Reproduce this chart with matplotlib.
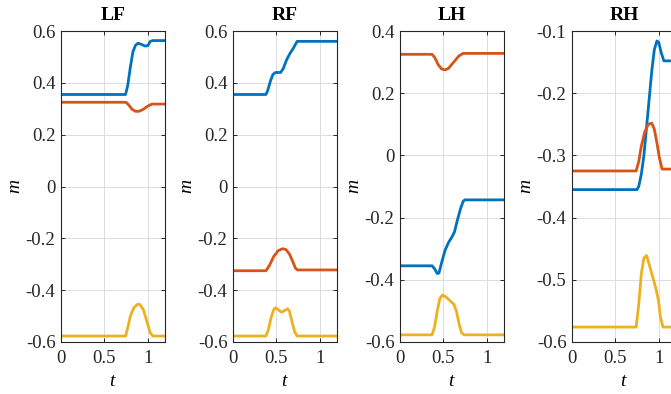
import numpy as np
import matplotlib
matplotlib.use('Agg')
import matplotlib.pyplot as plt

plt.rcParams['font.family'] = ['Liberation Serif', 'DejaVu Serif']
plt.rcParams['axes.unicode_minus'] = False
plt.rcParams['mathtext.fontset'] = 'custom'
plt.rcParams['mathtext.it'] = 'Liberation Serif:italic'

# legs
titles = ['LF', 'RF', 'LH', 'RH']
ylims = [(-0.6, 0.6), (-0.6, 0.6), (-0.6, 0.4), (-0.6, -0.1)]
yticks = [[-0.6, -0.4, -0.2, 0, 0.2, 0.4, 0.6],
          [-0.6, -0.4, -0.2, 0, 0.2, 0.4, 0.6],
          [-0.6, -0.4, -0.2, 0, 0.2, 0.4],
          [-0.6, -0.5, -0.4, -0.3, -0.2, -0.1]]

# LF
lf_x_t = [0, 0.745, 0.77, 0.80, 0.83, 0.86, 0.89, 0.93, 0.97, 1.0, 1.03, 1.06, 1.2]
lf_x_v = [0.355, 0.355, 0.39, 0.46, 0.52, 0.545, 0.553, 0.548, 0.542, 0.543, 0.56, 0.563, 0.563]
lf_y_t = [0, 0.75, 0.78, 0.82, 0.86, 0.90, 0.95, 1.0, 1.05, 1.2]
lf_y_v = [0.325, 0.325, 0.315, 0.298, 0.29, 0.29, 0.298, 0.31, 0.318, 0.318]
lf_z_t = [0, 0.745, 0.77, 0.80, 0.84, 0.88, 0.91, 0.95, 0.99, 1.03, 1.06, 1.2]
lf_z_v = [-0.577, -0.577, -0.545, -0.50, -0.468, -0.455, -0.455, -0.475, -0.52, -0.565, -0.577, -0.577]

# RF
rf_x_t = [0, 0.38, 0.40, 0.43, 0.46, 0.49, 0.55, 0.58, 0.62, 0.66, 0.69, 0.72, 0.74, 1.2]
rf_x_v = [0.355, 0.355, 0.37, 0.405, 0.432, 0.44, 0.44, 0.455, 0.49, 0.515, 0.53, 0.548, 0.56, 0.56]
rf_y_t = [0, 0.38, 0.42, 0.47, 0.52, 0.57, 0.61, 0.65, 0.69, 0.72, 0.745, 1.2]
rf_y_v = [-0.325, -0.325, -0.305, -0.27, -0.248, -0.24, -0.243, -0.26, -0.29, -0.315, -0.322, -0.322]
rf_z_t = [0, 0.38, 0.41, 0.44, 0.47, 0.49, 0.52, 0.56, 0.60, 0.63, 0.65, 0.68, 0.71, 0.74, 1.2]
rf_z_v = [-0.577, -0.577, -0.55, -0.505, -0.475, -0.468, -0.475, -0.485, -0.478, -0.472, -0.48, -0.52, -0.56, -0.577, -0.577]

# LH
lh_x_t = [0, 0.37, 0.40, 0.43, 0.45, 0.48, 0.52, 0.56, 0.60, 0.63, 0.66, 0.70, 0.73, 0.75, 1.2]
lh_x_v = [-0.355, -0.355, -0.365, -0.38, -0.378, -0.345, -0.305, -0.28, -0.262, -0.245, -0.21, -0.17, -0.147, -0.143, -0.143]
lh_y_t = [0, 0.37, 0.40, 0.44, 0.48, 0.52, 0.56, 0.62, 0.68, 0.73, 1.2]
lh_y_v = [0.325, 0.325, 0.315, 0.292, 0.278, 0.275, 0.28, 0.30, 0.32, 0.328, 0.328]
lh_z_t = [0, 0.37, 0.40, 0.43, 0.46, 0.49, 0.53, 0.58, 0.62, 0.65, 0.68, 0.71, 0.74, 1.2]
lh_z_v = [-0.577, -0.577, -0.55, -0.50, -0.46, -0.449, -0.455, -0.468, -0.478, -0.50, -0.54, -0.57, -0.577, -0.577]

# RH
rh_x_t = [0, 0.75, 0.77, 0.80, 0.83, 0.86, 0.89, 0.92, 0.95, 0.98, 1.0, 1.03, 1.06, 1.2]
rh_x_v = [-0.355, -0.355, -0.35, -0.33, -0.30, -0.255, -0.21, -0.165, -0.13, -0.116, -0.118, -0.135, -0.148, -0.148]
rh_y_t = [0, 0.74, 0.77, 0.80, 0.84, 0.88, 0.92, 0.95, 0.98, 1.01, 1.04, 1.2]
rh_y_v = [-0.325, -0.325, -0.31, -0.285, -0.262, -0.25, -0.248, -0.258, -0.28, -0.305, -0.322, -0.322]
rh_z_t = [0, 0.74, 0.77, 0.80, 0.83, 0.86, 0.89, 0.93, 0.97, 1.0, 1.02, 1.05, 1.2]
rh_z_v = [-0.576, -0.576, -0.54, -0.49, -0.465, -0.461, -0.475, -0.495, -0.515, -0.535, -0.56, -0.576, -0.576]

series = [
    [(lf_x_t, lf_x_v), (lf_y_t, lf_y_v), (lf_z_t, lf_z_v)],
    [(rf_x_t, rf_x_v), (rf_y_t, rf_y_v), (rf_z_t, rf_z_v)],
    [(lh_x_t, lh_x_v), (lh_y_t, lh_y_v), (lh_z_t, lh_z_v)],
    [(rh_x_t, rh_x_v), (rh_y_t, rh_y_v), (rh_z_t, rh_z_v)],
]
colors = ['#0072BD', '#D95319', '#EDB120']

W, H = 671, 394
fig = plt.figure(figsize=(W / 100, H / 100), dpi=100)

lefts = [61, 233, 400, 572]
ax_w, ax_top, ax_bot = 104, 31, 342

for i in range(4):
    ax = fig.add_axes([lefts[i] / W, (H - ax_bot) / H, ax_w / W, (ax_bot - ax_top) / H])
    for (t, v), c in zip(series[i], colors):
        ax.plot(t, v, color=c, lw=2.0, solid_joinstyle='round')
    ax.set_xlim(0, 1.2)
    ax.set_ylim(*ylims[i])
    ax.set_xticks([0, 0.5, 1])
    ax.set_xticklabels(['0', '0.5', '1'])
    ax.set_yticks(yticks[i])
    ax.set_yticklabels(['0' if y == 0 else f'{y:g}' for y in yticks[i]])
    ax.grid(True, color='#dcdcdc', lw=0.7)
    ax.set_axisbelow(True)
    ax.tick_params(direction='in', top=True, right=True, length=3, width=0.7,
                   labelsize=13.5, colors='#262626', pad=4)
    ax.tick_params(axis='x', pad=6)
    for s in ax.spines.values():
        s.set_color('#262626')
        s.set_linewidth(0.8)
    ax.set_title(titles[i], fontsize=14, fontweight='bold', pad=8)
    ax.set_xlabel('$t$', fontsize=14, labelpad=4)
    ax.set_ylabel('$m$', fontsize=14, labelpad=1)

fig.savefig('out.png', dpi=100)
